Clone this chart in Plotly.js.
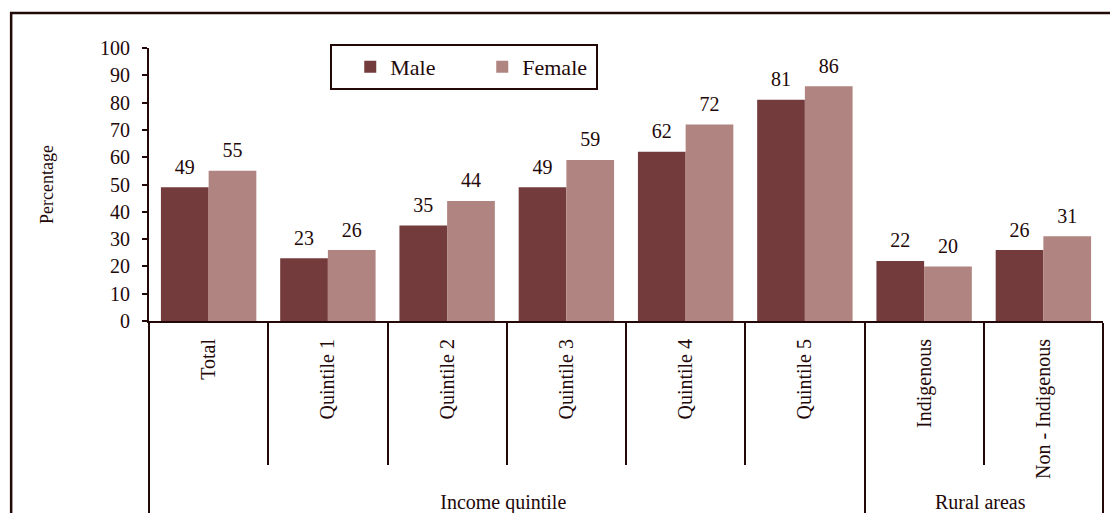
<!DOCTYPE html>
<html>
<head>
<meta charset="utf-8">
<script src="https://cdn.plot.ly/plotly-3.0.1.min.js"></script>
<style>
  html, body { margin: 0; padding: 0; background: #ffffff; }
  #chart { width: 1110px; height: 513px; }
</style>
</head>
<body>
<div id="chart"></div>
<script>
// Share of population by sex, income quintile and rural area type
const groups = ['Income quintile', 'Income quintile', 'Income quintile', 'Income quintile',
                'Income quintile', 'Income quintile', 'Rural areas', 'Rural areas'];
const categories = ['Total', 'Quintile 1', 'Quintile 2', 'Quintile 3',
                    'Quintile 4', 'Quintile 5', 'Indigenous', 'Non - Indigenous'];
const maleValues = [49, 23, 35, 49, 62, 81, 22, 26];
const femaleValues = [55, 26, 44, 59, 72, 86, 20, 31];
const seriesNames = ['Male', 'Female'];
const yTicks = [0, 10, 20, 30, 40, 50, 60, 70, 80, 90, 100];

const ink = '#230808';
const maleColor = '#743b3c';
const femaleColor = '#b08480';
const serif = 'Liberation Serif';

const xPairs = [groups, categories];

function barTrace(name, values, color) {
  return {
    type: 'bar',
    name: name,
    x: xPairs,
    y: values,
    marker: { color: color, line: { width: 0 } },
    hoverinfo: 'x+y+name'
  };
}

// value labels floating above each bar, grouped like the bars
function labelTrace(name, values) {
  return {
    type: 'scatter',
    mode: 'markers+text',
    name: name + ' labels',
    x: xPairs,
    y: values,
    text: values.map(String),
    textposition: 'top center',
    textfont: { family: serif, size: 20, color: ink },
    marker: { size: 12, color: 'rgba(0,0,0,0)' },
    showlegend: false,
    hoverinfo: 'skip',
    cliponaxis: false
  };
}

const data = [
  barTrace(seriesNames[0], maleValues, maleColor),
  barTrace(seriesNames[1], femaleValues, femaleColor),
  labelTrace(seriesNames[0], maleValues),
  labelTrace(seriesNames[1], femaleValues)
];

const layout = {
  width: 1110,
  height: 513,
  margin: { l: 149, r: 7, t: 48, b: 192, pad: 0 },
  paper_bgcolor: '#ffffff',
  plot_bgcolor: '#ffffff',
  font: { family: serif, size: 20, color: ink },
  barmode: 'group',
  scattermode: 'group',
  bargap: 0.2,
  bargroupgap: 0,
  showlegend: true,
  legend: {
    orientation: 'h',
    x: 0.19, xanchor: 'left',
    y: 1.015, yanchor: 'top',
    bgcolor: '#ffffff',
    bordercolor: ink,
    borderwidth: 2,
    font: { family: serif, size: 22, color: ink },
    entrywidth: 69,
    entrywidthmode: 'pixels',
    indentation: 18,
    traceorder: 'normal'
  },
  xaxis: {
    type: 'multicategory',
    showgrid: false,
    zeroline: false,
    showline: true,
    linecolor: ink,
    linewidth: 2,
    ticks: 'outside',
    tickson: 'boundaries',
    ticklen: 142,
    tickwidth: 2,
    tickcolor: ink,
    tickangle: -90,
    ticklabelstandoff: 8,
    tickfont: { family: serif, size: 20, color: ink },
    showdividers: true,
    dividercolor: ink,
    dividerwidth: 2,
    automargin: false,
    fixedrange: true
  },
  yaxis: {
    range: [0, 100],
    tickvals: yTicks,
    ticktext: yTicks.map(String),
    showgrid: false,
    zeroline: false,
    showline: true,
    linecolor: ink,
    linewidth: 2,
    ticks: 'outside',
    ticklen: 5,
    tickwidth: 2,
    tickcolor: ink,
    ticklabelstandoff: 8,
    tickfont: { family: serif, size: 20, color: ink },
    title: { text: 'Percentage', font: { family: serif, size: 18, color: ink }, standoff: 42 },
    automargin: false,
    fixedrange: true
  },
  shapes: [{
    // outer chart frame
    type: 'rect',
    xref: 'paper', yref: 'paper',
    x0: -0.1445, x1: 1.2,
    y0: -1.0, y1: 1.128,
    line: { color: ink, width: 2.5 },
    fillcolor: 'rgba(0,0,0,0)',
    layer: 'below'
  }]
};

Plotly.newPlot('chart', data, layout, { displayModeBar: false, staticPlot: true });
</script>
</body>
</html>
